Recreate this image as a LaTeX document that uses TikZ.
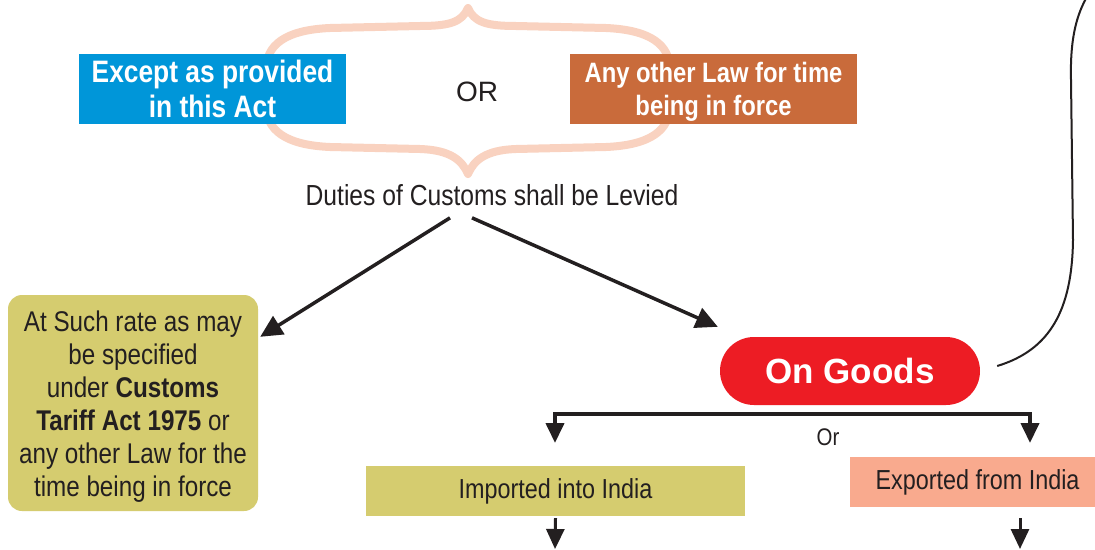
\documentclass[tikz,border=0pt]{standalone}
\usepackage{fontspec}
\setmainfont{Liberation Sans}[FakeStretch=0.85]
\newfontfamily\widefont{Liberation Sans}
\usetikzlibrary{arrows.meta}
\definecolor{cblue}{HTML}{0096D9}
\definecolor{corange}{HTML}{C96B3B}
\definecolor{cbrace}{HTML}{F9D2C0}
\definecolor{colive}{HTML}{D5CC6F}
\definecolor{cred}{HTML}{ED1C24}
\definecolor{csalmon}{HTML}{F9AA8E}
\definecolor{ctext}{HTML}{231F20}
\newcommand\fsz[2]{\fontsize{#1}{#2}\selectfont}
\tikzset{
  box/.style={inner sep=0pt, align=center, text=ctext},
  arr/.style={draw=ctext, line width=3.5pt, -{Triangle[length=22pt,width=21pt]}},
  darr/.style={draw=ctext, line width=3pt, -{Triangle[length=20pt,width=18pt]}},
  bracestyle/.style={draw=cbrace, line width=8pt, line join=round},
}
\begin{document}
\begin{tikzpicture}[x=1pt,y=-1pt]
\useasboundingbox (0,0) rectangle (1095,549);
\clip (0,0) rectangle (1095,549);
\fill[white] (0,0) rectangle (1095,549);
% brace shape
\draw[bracestyle] (468,8) .. controls (462,22) and (450,26) .. (420,26) -- (330,28)
  .. controls (285,30) and (266,45) .. (266,70) -- (266,105)
  .. controls (266,130) and (285,145) .. (330,147) -- (420,149)
  .. controls (450,150) and (462,160) .. (468,174)
  .. controls (474,160) and (486,150) .. (516,149) -- (606,147)
  .. controls (651,145) and (670,130) .. (670,105) -- (670,70)
  .. controls (670,45) and (651,30) .. (606,28) -- (516,26)
  .. controls (486,26) and (474,22) .. cycle;
% top boxes
\node[box, fill=cblue, text=white, minimum width=267pt, minimum height=70pt,
      font=\bfseries\fsz{31}{35}] (A) at (212.5,89) {Except as provided\\in this Act};
\node[box, fill=corange, minimum width=287pt, minimum height=70pt] (B) at (713.5,89) {};
\node[box, text=white, font=\bfseries\fsz{28}{33}] (Bt) at (713.5,92) {Any other Law for time\\being in force};
\node[box, font=\widefont\fsz{28}{32}] (OR) at (477,92) {OR};
\node[box, font=\fsz{29}{32}] (D) at (492,195) {Duties of Customs shall be Levied};
% left box
\node[box, fill=colive, rounded corners=14pt, minimum width=250pt, minimum height=216pt] (L) at (133,403) {};
\node[box, font=\fsz{28.5}{33}] (Lt) at (133,407)
  {At Such rate as may\\be specified\\under \textbf{Customs}\\\textbf{Tariff Act 1975} or\\any other Law for the\\time being in force};
% on goods
\node[box, fill=cred, text=white, rounded corners=34pt, minimum width=260pt, minimum height=68pt,
      font=\widefont\bfseries\fsz{35}{40}] (G) at (850,371) {On Goods};
% bottom boxes
\node[box, fill=colive, minimum width=379pt, minimum height=50pt, font=\fsz{27.5}{30}] (I) at (555.5,491) {Imported into India};
\node[box, fill=csalmon, minimum width=245pt, minimum height=50pt] (E) at (972.5,482) {};
\node[box, font=\fsz{27.5}{30}] (Et) at (977.5,482) {Exported from India};
\node[box, font=\fsz{24}{28}] (O) at (828,437) {Or};
% arrows from duties
\draw[arr] ([xshift=-42pt,yshift=-12pt]D.south) -- ([xshift=2pt,yshift=-42pt]L.north east);
\draw[arr] ([xshift=-20pt,yshift=-12pt]D.south) -- ([xshift=-2pt,yshift=10pt]G.north west);
% bracket
\coordinate (bl) at (555,443);
\coordinate (br) at (1030,443);
\coordinate (bm) at (800,414);
\draw[draw=ctext, line width=4pt, {Triangle[length=20pt,width=18pt]}-{Triangle[length=20pt,width=18pt]}]
  (bl) |- (bm) -| (br);
% bottom arrows
\coordinate (il) at (555,549);
\coordinate (er) at (1020,549);
\coordinate (es) at (1020,518);
\draw[darr] ([yshift=-2pt]I.south) -- (il);
\draw[darr] (es) -- (er);
% long connector
\coordinate (top) at (1088,-5);
\draw[draw=ctext, line width=2pt] ([xshift=17pt,yshift=5pt]G.east)
  .. controls (1050,350) and (1072,310) .. (1073,240) -- (1071,80)
  .. controls (1070,40) and (1076,15) .. (top);
\end{tikzpicture}
\end{document}
